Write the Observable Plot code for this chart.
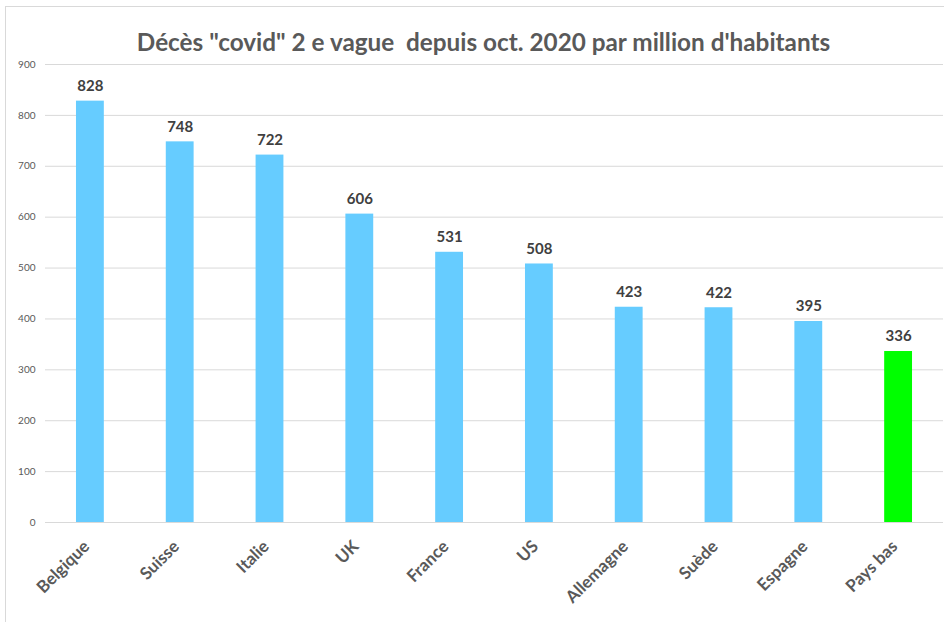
<!DOCTYPE html>
<html>
<head>
<meta charset="utf-8">
<script src="https://cdn.jsdelivr.net/npm/d3@7"></script>
<script src="https://cdn.jsdelivr.net/npm/@observablehq/plot@0.6"></script>
<style>
  html, body { margin: 0; padding: 0; background: #fff; }
  #wrap { position: relative; width: 944px; height: 622px; overflow: hidden; }
  #border { position: absolute; left: 5px; top: 6px; width: 1000px; height: 700px; border: 1px solid #d9d9d9; box-sizing: border-box; }
  #chart { position: absolute; left: 0; top: 0; }
</style>
</head>
<body>
<div id="wrap"><div id="border"></div><div id="chart"></div></div>
<script>
const countries = ["Belgique", "Suisse", "Italie", "UK", "France", "US", "Allemagne", "Suède", "Espagne", "Pays bas"];
const deaths = [828, 748, 722, 606, 531, 508, 423, 422, 395, 336];
const barColors = ["#66ccff", "#66ccff", "#66ccff", "#66ccff", "#66ccff", "#66ccff", "#66ccff", "#66ccff", "#66ccff", "#00ff00"];
const yTicks = [0, 100, 200, 300, 400, 500, 600, 700, 800, 900];
const title = "Décès \"covid\" 2 e vague  depuis oct. 2020 par million d'habitants";

const data = countries.map((c, i) => ({country: c, value: deaths[i], color: barColors[i]}));

const chart = Plot.plot({
  width: 944,
  height: 622,
  marginTop: 64,
  marginBottom: 100,
  marginLeft: 45,
  marginRight: 1,
  style: {fontFamily: "Lato, 'Open Sans', sans-serif", background: "transparent"},
  x: {domain: countries, paddingInner: 0.69, paddingOuter: 0.345, round: false, label: null, axis: null},
  y: {domain: [0, 900], label: null},
  marks: [
    Plot.gridY(yTicks, {stroke: "#d9d9d9", strokeOpacity: 1, strokeWidth: 1}),
    Plot.axisY(yTicks, {tickSize: 0, tickPadding: 10, fontSize: 10, fill: "#595959", label: null}),
    Plot.barY(data, {x: "country", y: "value", fill: "color"}),
    Plot.text(countries, {x: d => d, frameAnchor: "bottom", text: d => d, rotate: -45, textAnchor: "end", dx: 0, dy: 25, fontSize: 17, fontWeight: "bold", fill: "#595959"}),
    Plot.text(data, {x: "country", y: "value", text: d => String(d.value), dy: -15, fontSize: 15, fontWeight: "bold", fill: "#404040"}),
    Plot.text([title], {frameAnchor: "top", text: d => d, dy: -31, dx: -11, fontSize: 24.3, fontWeight: "bold", fill: "#595959"})
  ]
});
document.getElementById("chart").appendChild(chart);
</script>
</body>
</html>
